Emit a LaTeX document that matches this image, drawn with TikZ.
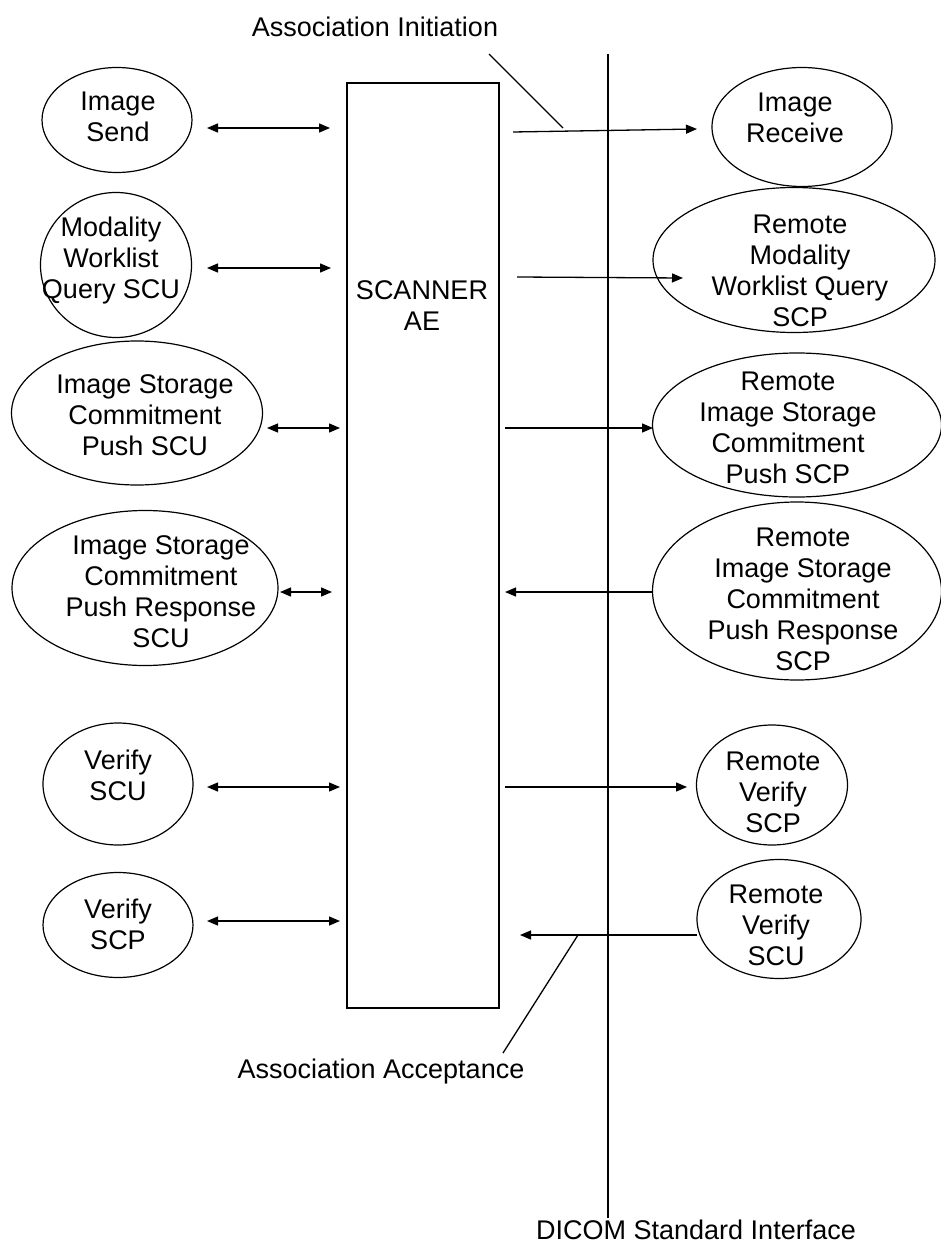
\documentclass[tikz,border=0pt]{standalone}
\usepackage{fontspec}
\setmainfont{Liberation Sans}
\usetikzlibrary{shapes.geometric,arrows.meta}
\tikzset{
  svc/.style={draw,ellipse,inner sep=0pt,line width=1.2pt},
  lbl/.style={align=center,inner sep=0pt},
  both/.style={{Triangle[length=11pt,width=9pt]}-{Triangle[length=11pt,width=9pt]},line width=1.3pt},
  one/.style={-{Triangle[length=11pt,width=9pt]},line width=1.3pt},
}
\begin{document}
\begin{tikzpicture}[x=1pt,y=-1pt,font=\fontsize{27}{31}\selectfont]
\useasboundingbox (0,0) rectangle (941,1249);

% scanner AE and interface line
\node [draw,line width=1.4pt,minimum width=152pt,minimum height=925pt,inner sep=0pt] (scanner) at (423,545.5) {};
\node [lbl] (scannerlbl) at (422,306) {SCANNER\\AE};
\coordinate (dicomtop) at (608,54);
\coordinate (dicombot) at (608,1218);
\draw [line width=1.3pt] (dicomtop) -- (dicombot);

% local services
\node [svc,minimum width=150pt,minimum height=105pt] (send) at (117,120) {};
\node [lbl] (sendtxt) at (118,117) {Image\\Send};
\node [svc,minimum width=151pt,minimum height=145pt] (mwl) at (116,265) {};
\node [lbl] (mwltxt) at (111,261) {Modality\\Worklist\\Query SCU};
\node [svc,minimum width=251pt,minimum height=144pt] (iscu) at (137,413) {};
\node [lbl] (iscutxt) at (145,415) {Image Storage\\Commitment\\Push SCU};
\node [svc,minimum width=266pt,minimum height=155pt] (irsp) at (145,588) {};
\node [lbl] (irsptxt) at (161,592) {Image Storage\\Commitment\\Push Response\\SCU};
\node [svc,minimum width=150pt,minimum height=122pt] (vscu) at (118,784) {};
\node [lbl] (vscutxt) at (118,775) {Verify\\SCU};
\node [svc,minimum width=150pt,minimum height=105pt] (vscp) at (118,925) {};
\node [lbl] (vscptxt) at (118,924) {Verify\\SCP};

\coordinate (sendA) at (207,128);  \coordinate (sendB) at (330,128);
\coordinate (mwlA) at (207,268);   \coordinate (mwlB) at (331,268);
\coordinate (iscuA) at (267,428);  \coordinate (iscuB) at (340,428);
\coordinate (irspA) at (280,592);  \coordinate (irspB) at (332,592);
\coordinate (vscuA) at (207,787);  \coordinate (vscuB) at (340,787);
\coordinate (vscpA) at (207,921);  \coordinate (vscpB) at (340,921);
\draw [both] (sendA) -- (sendB);
\draw [both] (mwlA) -- (mwlB);
\draw [both] (iscuA) -- (iscuB);
\draw [both] (irspA) -- (irspB);
\draw [both] (vscuA) -- (vscuB);
\draw [both] (vscpA) -- (vscpB);

% remote services
\node [svc,minimum width=180pt,minimum height=119pt] (recv) at (802,127) {};
\node [lbl] (recvtxt) at (795,118) {Image\\Receive};
\node [svc,minimum width=282pt,minimum height=145pt] (rmwl) at (794,260) {};
\node [lbl] (rmwltxt) at (800,271) {Remote\\Modality\\Worklist Query\\SCP};
\node [svc,minimum width=289pt,minimum height=144pt] (rscp) at (797,425) {};
\node [lbl] (rscptxt) at (788,428) {Remote\\Image Storage\\Commitment\\Push SCP};
\node [svc,minimum width=289pt,minimum height=178pt] (rrsp) at (797,591) {};
\node [lbl] (rrsptxt) at (803,599) {Remote\\Image Storage\\Commitment\\Push Response\\SCP};
\node [svc,minimum width=151pt,minimum height=120pt] (rvscp) at (772,785) {};
\node [lbl] (rvscptxt) at (773,792) {Remote\\Verify\\SCP};
\node [svc,minimum width=164pt,minimum height=119pt] (rvscu) at (779,919) {};
\node [lbl] (rvscutxt) at (776,925) {Remote\\Verify\\SCU};

\coordinate (recvA) at (513,132);  \coordinate (recvB) at (697,129);
\coordinate (rmwlA) at (517,277);  \coordinate (rmwlB) at (683,278);
\coordinate (rscpA) at (505,428);  \coordinate (rscpB) at (653,428);
\coordinate (rrspA) at (505,592);  \coordinate (rrspB) at (653,592);
\coordinate (rvscpA) at (505,787); \coordinate (rvscpB) at (687,787);
\coordinate (rvscuA) at (520,935); \coordinate (rvscuB) at (697,935);
\draw [one] (recvA) -- (recvB);
\draw [one] (rmwlA) -- (rmwlB);
\draw [one] (rscpA) -- (rscpB);
\draw [one] (rrspB) -- (rrspA);
\draw [one] (rvscpA) -- (rvscpB);
\draw [one] (rvscuB) -- (rvscuA);

% association labels
\node [lbl] (initlbl) at (375,27) {Association Initiation};
\coordinate (initA) at (489,54);  \coordinate (initB) at (563,128);
\draw [line width=1.3pt] (initA) -- (initB);
\node [lbl] (acclbl) at (381,1072) {Association Acceptance};
\coordinate (accA) at (503,1053); \coordinate (accB) at (578,935);
\draw [line width=1.3pt] (accA) -- (accB);
\node [lbl] (dicomlbl) at (696,1230) {DICOM Standard Interface};

\end{tikzpicture}
\end{document}
